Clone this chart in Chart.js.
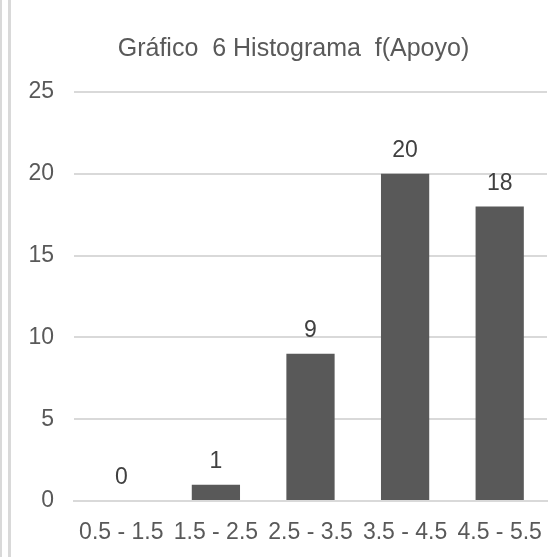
<!DOCTYPE html>
<html>
<head>
<meta charset="utf-8">
<script src="https://cdn.jsdelivr.net/npm/chart.js@4"></script>
<style>
  html, body { margin: 0; padding: 0; background: #fff; }
  #marco { position: relative; width: 555px; height: 557px; }
  #marco canvas { position: absolute; left: 0; top: 0; }
  .borde { position: absolute; top: 0; bottom: 0; width: 2px; background: #d9d9d9; }
</style>
</head>
<body>
<div id="marco">
  <div class="borde" style="left:0"></div>
  <div class="borde" style="left:8px;width:3px"></div>
  <canvas id="histograma" width="555" height="557"></canvas>
</div>
<script>
// Histograma de frecuencias f(Apoyo)
const clases = ['0.5 - 1.5', '1.5 - 2.5', '2.5 - 3.5', '3.5 - 4.5', '4.5 - 5.5'];
const frecuencias = [0, 1, 9, 20, 18];
const marcasY = [0, 5, 10, 15, 20, 25];

const fuente = '"Liberation Sans", Arial, sans-serif';

// etiquetas de valor encima de cada barra
const etiquetasBarras = {
  id: 'etiquetasBarras',
  afterDatasetsDraw(chart) {
    const ctx = chart.ctx;
    const meta = chart.getDatasetMeta(0);
    ctx.save();
    ctx.font = '23px ' + fuente;
    ctx.fillStyle = '#404040';
    ctx.textAlign = 'center';
    ctx.textBaseline = 'middle';
    meta.data.forEach((barra, i) => {
      ctx.fillText(String(frecuencias[i]), barra.x, barra.y - 23);
    });
    ctx.restore();
  }
};

// el título va centrado sobre el área del gráfico, no sobre todo el lienzo
const tituloCentrado = {
  id: 'tituloCentrado',
  afterLayout(chart) {
    if (chart.titleBlock) chart.titleBlock.left += 20;
  }
};

new Chart(document.getElementById('histograma').getContext('2d'), {
  type: 'bar',
  data: {
    labels: clases,
    datasets: [{
      data: frecuencias,
      backgroundColor: '#595959',
      borderWidth: 0,
      categoryPercentage: 1,
      barPercentage: 0.51
    }]
  },
  options: {
    responsive: false,
    animation: false,
    layout: { padding: { left: 20, right: 8, top: 0, bottom: 0 } },
    plugins: {
      legend: { display: false },
      tooltip: { enabled: false },
      title: {
        display: true,
        text: 'Gráfico  6 Histograma  f(Apoyo)',
        color: '#595959',
        font: { family: fuente, size: 25, weight: 'normal', lineHeight: 1.2 },
        padding: { top: 34, bottom: 28 }
      }
    },
    scales: {
      x: {
        grid: { display: false },
        border: { color: '#d9d9d9', width: 2 },
        ticks: {
          color: '#595959',
          font: { family: fuente, size: 23 },
          maxRotation: 0,
          autoSkip: false,
          padding: 10
        },
        afterFit(escala) { escala.height = 56; }
      },
      y: {
        min: 0,
        max: 25,
        afterBuildTicks(escala) { escala.ticks = marcasY.map(v => ({ value: v })); },
        grid: { color: '#d9d9d9', lineWidth: 2, drawTicks: false },
        border: { display: false },
        ticks: {
          color: '#595959',
          font: { family: fuente, size: 23 },
          padding: 20
        },
        afterFit(escala) { escala.width = 54; }
      }
    }
  },
  plugins: [etiquetasBarras, tituloCentrado]
});
</script>
</body>
</html>
